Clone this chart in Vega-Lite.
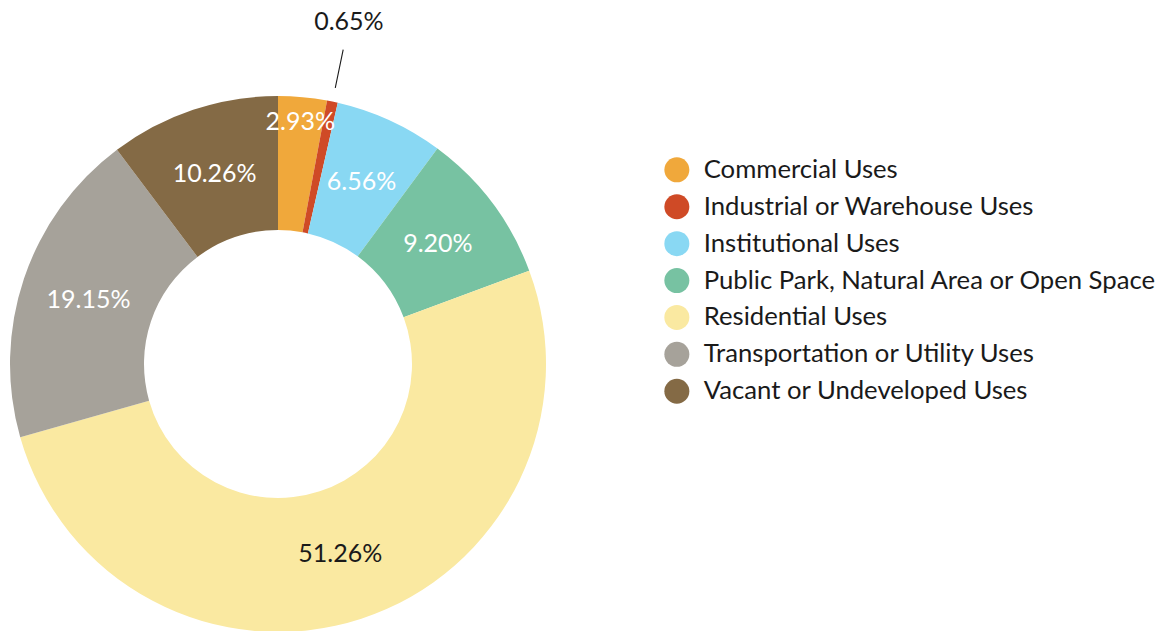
{
  "$schema": "https://vega.github.io/schema/vega-lite/v6.json",
  "width": 556,
  "height": 534,
  "autosize": {"type": "none"},
  "padding": {"top": 97, "left": 0, "right": 603, "bottom": 0},
  "background": "white",
  "config": {"view": {"stroke": null}, "font": "Lato"},
  "data": {
    "values": [
      {"Category": "Commercial Uses", "Share": 0.0293},
      {"Category": "Industrial or Warehouse Uses", "Share": 0.0065},
      {"Category": "Institutional Uses", "Share": 0.0656},
      {"Category": "Public Park, Natural Area or Open Space", "Share": 0.0920},
      {"Category": "Residential Uses", "Share": 0.5126},
      {"Category": "Transportation or Utility Uses", "Share": 0.1915},
      {"Category": "Vacant or Undeveloped Uses", "Share": 0.1026}
    ]
  },
  "layer": [
    {
      "mark": {"type": "arc", "outerRadius": 268, "innerRadius": 134},
      "encoding": {
        "theta": {"field": "Share", "type": "quantitative", "stack": true},
        "order": {"field": "Category", "type": "ordinal", "sort": "ascending"},
        "color": {
          "field": "Category",
          "type": "nominal",
          "scale": {
            "domain": ["Commercial Uses", "Industrial or Warehouse Uses", "Institutional Uses", "Public Park, Natural Area or Open Space", "Residential Uses", "Transportation or Utility Uses", "Vacant or Undeveloped Uses"],
            "range": ["#F0A83B", "#CF4A26", "#89D8F3", "#77C2A2", "#FAE9A1", "#A6A29A", "#846A45"]
          },
          "legend": {
            "orient": "none",
            "legendX": 664,
            "legendY": 60,
            "title": null,
            "symbolType": "circle",
            "symbolSize": 625,
            "symbolStrokeWidth": 0,
            "labelFontSize": 25.7,
            "labelFont": "Lato",
            "labelColor": "#1a1a1a",
            "rowPadding": 9.9,
            "labelOffset": 14,
            "labelLimit": 700
          }
        }
      }
    },
    {
      "mark": {"type": "arc", "outerRadius": 321, "innerRadius": 282, "padAngle": 0.06, "fillOpacity": 0, "stroke": "#1a1a1a", "strokeWidth": 1.1},
      "encoding": {
        "theta": {"field": "Share", "type": "quantitative", "stack": true},
        "order": {"field": "Category", "type": "ordinal", "sort": "ascending"},
        "detail": {"field": "Category", "type": "nominal"},
        "opacity": {"condition": {"test": "datum.Category === 'Industrial or Warehouse Uses'", "value": 1}, "value": 0}
      }
    },
    {
      "mark": {"type": "text", "radius": 200, "fontSize": 25, "font": "Lato", "align": "center", "baseline": "middle"},
      "encoding": {
        "theta": {"field": "Share", "type": "quantitative", "stack": true},
        "order": {"field": "Category", "type": "ordinal", "sort": "ascending"},
        "detail": {"field": "Category", "type": "nominal"},
        "text": {"condition": {"test": "datum.Category === 'Industrial or Warehouse Uses' || datum.Category === 'Commercial Uses'", "value": ""}, "field": "Share", "type": "quantitative", "format": ".2%"},
        "color": {"condition": {"test": "datum.Category === 'Residential Uses'", "value": "#1a1a1a"}, "value": "#ffffff"}
      }
    },
    {
      "mark": {"type": "text", "radius": 243, "fontSize": 25, "font": "Lato", "align": "center", "baseline": "middle", "color": "#ffffff"},
      "encoding": {
        "theta": {"field": "Share", "type": "quantitative", "stack": true},
        "order": {"field": "Category", "type": "ordinal", "sort": "ascending"},
        "detail": {"field": "Category", "type": "nominal"},
        "text": {"condition": {"test": "datum.Category !== 'Commercial Uses'", "value": ""}, "field": "Share", "type": "quantitative", "format": ".2%"}
      }
    },
    {
      "mark": {"type": "text", "radius": 349, "fontSize": 25, "font": "Lato", "align": "center", "baseline": "middle", "color": "#1a1a1a"},
      "encoding": {
        "theta": {"field": "Share", "type": "quantitative", "stack": true},
        "order": {"field": "Category", "type": "ordinal", "sort": "ascending"},
        "detail": {"field": "Category", "type": "nominal"},
        "text": {"condition": {"test": "datum.Category !== 'Industrial or Warehouse Uses'", "value": ""}, "field": "Share", "type": "quantitative", "format": ".2%"}
      }
    }
  ]
}
